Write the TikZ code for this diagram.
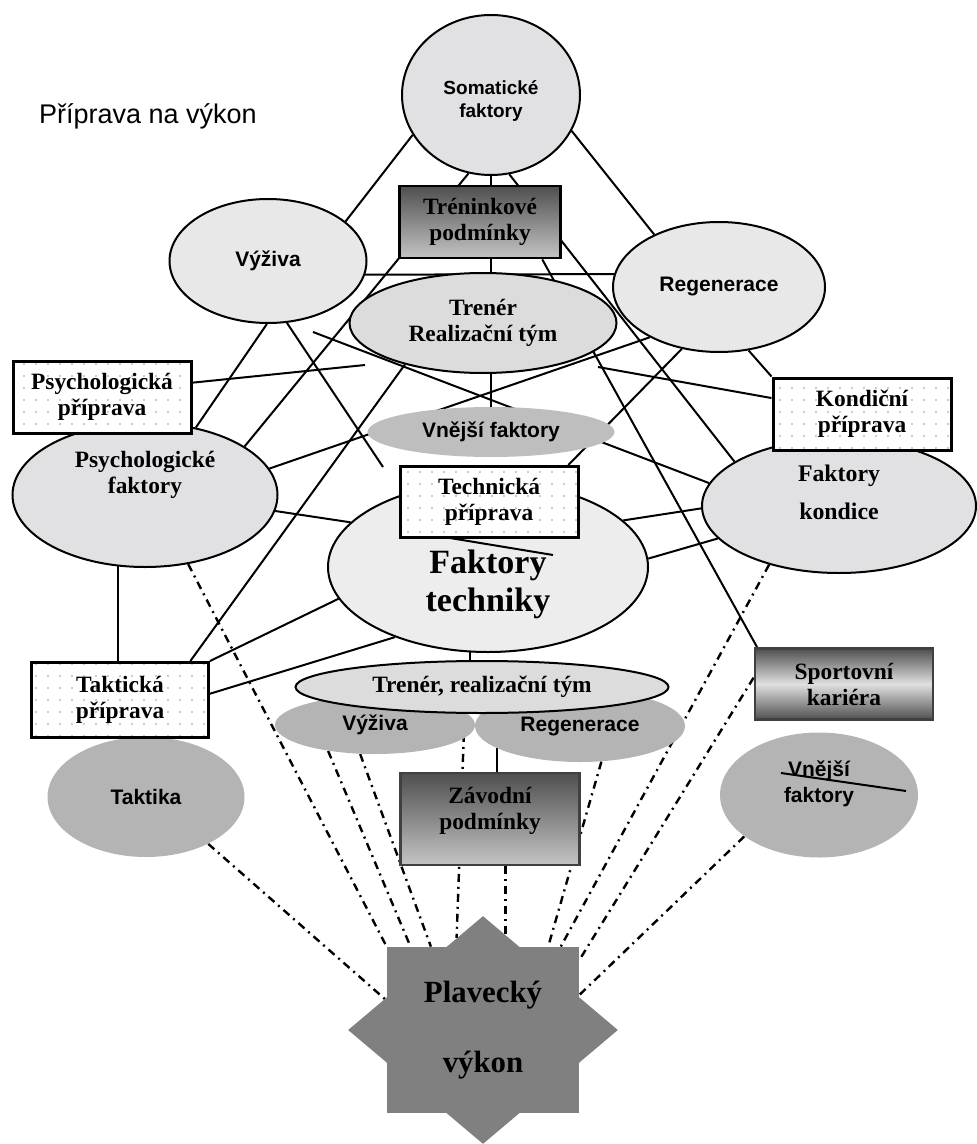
\documentclass[tikz,border=0pt]{standalone}
\usepackage{fontspec}
\setmainfont{Liberation Serif}
\setsansfont{Liberation Sans}
\usetikzlibrary{shapes.geometric,backgrounds,patterns,calc}
\definecolor{marble}{HTML}{E1E1E4}
\definecolor{paleell}{HTML}{E8E8E8}
\definecolor{midell}{HTML}{DCDCDC}
\definecolor{greyell}{HTML}{B4B4B4}
\definecolor{outerell}{HTML}{BEBEBE}
\definecolor{speckle}{HTML}{EDEDED}
\definecolor{stargrey}{HTML}{808080}
\definecolor{shadetop}{HTML}{4F4F4F}
\definecolor{shadebot}{HTML}{C4C4C4}
\pgfdeclarepatternformonly{sparsedots}{\pgfqpoint{-1pt}{-1pt}}{\pgfqpoint{1pt}{1pt}}{\pgfqpoint{6pt}{6pt}}{%
  \pgfpathcircle{\pgfqpoint{0pt}{0pt}}{0.45pt}\pgfusepath{fill}}
\newcommand{\tboxfont}{\bfseries\fontsize{11.7}{13}\selectfont}
\newcommand{\tellfont}{\sffamily\bfseries\fontsize{10.5}{13}\selectfont}
\newcommand{\tsomafont}{\sffamily\bfseries\fontsize{9.5}{11.5}\selectfont}
\newcommand{\tkondfont}{\bfseries\fontsize{11.9}{19}\selectfont}
\newcommand{\ttechfont}{\bfseries\fontsize{17}{19}\selectfont}
\newcommand{\tstarfont}{\bfseries\fontsize{15.4}{35}\selectfont}
\tikzset{
  ringell/.style={
    ellipse, draw, line width=1pt, fill=#1,
    inner sep=0pt, align=center
  },
  ringell/.default=paleell,
  flatell/.style={
    ellipse, fill=#1, inner sep=0pt, align=center
  },
  flatell/.default=greyell,
  dotbox/.style={
    rectangle, draw, line width=1.5pt, preaction={fill=white},
    pattern=sparsedots, pattern color=black!40,
    minimum width=89pt, minimum height=36pt,
    font=\tboxfont, align=center, inner sep=2pt
  },
  shadebox/.style={
    rectangle, draw=#1, line width=1.4pt,
    top color=shadetop, bottom color=shadebot,
    minimum width=89pt, minimum height=36pt,
    font=\tboxfont, align=center, inner sep=2pt
  },
  shadebox/.default=black,
  link/.style={line width=1pt},
  dashlink/.style={line width=1.2pt, dash pattern=on 4pt off 2.5pt on 1pt off 2.5pt},
}
\begin{document}
\begin{tikzpicture}[x=0.5pt, y=-0.5pt]
  \useasboundingbox (0,0) rectangle (976,1144);

  % heading
  \node[anchor=base west, font=\sffamily\fontsize{13.5}{16}\selectfont] (title) at (32,124) {Příprava na výkon};

  % upper group
  \node[ringell=marble, minimum width=89pt, minimum height=80pt,
        label={[font=\tsomafont, align=center, yshift=-3pt]center:Somatické\\faktory}] (soma) at (491,95) {};
  \node[shadebox, minimum width=80.5pt, minimum height=36pt] (trenink) at (480,222) {Tréninkové\\podmínky};
  \node[ringell, minimum width=98.5pt, minimum height=62pt, font=\tellfont] (vyziva) at (268,261) {Výživa};
  \node[ringell, minimum width=106pt, minimum height=65pt, font=\tellfont] (regen) at (719,287) {Regenerace};
  \node[ringell=midell, minimum width=133.5pt, minimum height=50pt, font=\tboxfont] (trener) at (483,323) {Trenér\\Realizační tým};
  \node[flatell=outerell, minimum width=123.5pt, minimum height=25pt, font=\tellfont] (vnejsi) at (491,432) {Vnější faktory};

  % factor ellipses with their preparation boxes
  \node[ringell=marble, minimum width=132.5pt, minimum height=72pt,
        label={[font=\tboxfont, align=center, yshift=10pt]center:Psychologické\\faktory}] (psychfak) at (145,495) {};
  \node[dotbox] (psychprip) at (102,397) {Psychologická\\příprava};
  \node[ringell=marble, minimum width=137pt, minimum height=67pt,
        label={[font=\tkondfont, align=center, yshift=7pt]center:Faktory\\kondice}] (kondfak) at (839,506) {};
  \node[dotbox] (kondprip) at (862,414) {Kondiční\\příprava};
  \node[ringell=speckle, minimum width=160pt, minimum height=85pt,
        label={[font=\ttechfont, align=center, yshift=-8.5pt]center:Faktory\\techniky}] (technika) at (488,567) {};
  \node[dotbox, minimum height=35.5pt] (techprip) at (489,502) {Technická\\příprava};
  \node[flatell, minimum width=98.5pt, minimum height=60pt, font=\tellfont] (taktika) at (146,797) {Taktika};
  \node[dotbox, minimum width=88.5pt, minimum height=37.5pt] (taktprip) at (120,700) {Taktická\\příprava};

  % lower group
  \node[flatell, minimum width=100pt, minimum height=29pt, font=\tellfont] (vyziva2) at (375,725) {Výživa};
  \node[flatell, minimum width=105pt, minimum height=36pt, font=\tellfont] (regen2) at (580,726) {Regenerace};
  \node[ringell=midell, minimum width=186.5pt, minimum height=26pt, font=\tboxfont] (trener2) at (482,687) {Trenér, realizační tým};
  \node[shadebox=black!75, minimum width=89.5pt, minimum height=46pt,
        label={[font=\tboxfont, align=center, yshift=4pt]center:Závodní\\podmínky}] (zavod) at (490,819) {};
  \node[shadebox=black!75, top color=shadetop, bottom color=shadetop, middle color=black!12,
        minimum height=35.5pt] (kariera) at (844,684) {Sportovní\\kariéra};
  \node[flatell, minimum width=99pt, minimum height=62.5pt,
        label={[font=\tellfont, align=center, yshift=5.5pt]center:Vnější\\faktory}] (vnejsi2) at (819,795) {};

  % performance star
  \node[rectangle, fill=stargrey, minimum width=96pt, minimum height=83pt, inner sep=0pt] (plav) at (483,1030) {};
  \node[diamond, fill=stargrey, aspect=1.18, minimum width=135pt, minimum height=114pt, inner sep=0pt] (plavd) at (483,1030) {};
  \node[font=\tstarfont, align=center] (plavtxt) at (483,1030) {Plavecký\\výkon};

  % loose ends
  \coordinate (vyzend) at (383,467);
  \coordinate (kondstart) at (313,332);
  \coordinate (psychend) at (365,365);
  \coordinate (kondstart2) at (598,367);

  \begin{scope}[on background layer]
    % solid links
    \draw[link] (soma.207) -- (vyziva.27);
    \draw[link] (soma.336) -- (regen.141);
    \draw[link] (soma.254) -- (psychfak.26);
    \draw[link] (soma.283) -- (kondfak.157);
    \draw[link] (soma.south) -- (vnejsi.north);
    \draw[link] (trenink.329.5) -- (kariera.157);
    \draw[link] (vyziva.-8) -- (regen.173);
    \draw[link] (vyziva.269) -- (psychfak.53);
    \draw[link] (vyziva.287) -- (vyzend);
    \draw[link] (kondstart) -- (kondfak.170);
    \draw[link] (psychprip.9) -- (psychend);
    \draw[link] (trener.208) -- (taktprip.29);
    \draw[link] (regen.216) -- (psychfak.12);
    \draw[link] (regen.239) -- (techprip.25);
    \draw[link] (regen.295) -- (kondprip.north west);
    \draw[link] (kondstart2) -- (kondprip.170);
    \draw[link] (psychfak.353) -- (technika.162);
    \draw[link] (psychfak.249) -- (psychfak.249 |- taktprip.north);
    \draw[link] (technika.192) -- (taktprip.north east);
    \draw[link] (technika.217) -- (taktprip.4);
    \draw[link] (technika.19) -- (kondfak.181);
    \draw[link] (technika.3) -- (kondfak.195);
    \draw[link] (technika.258) -- (technika.258 |- trener2.north);
    \draw[link] (regen2.195) -- (regen2.195 |- zavod.north);
    % dash-dot links to the star
    \draw[dashlink] (psychfak.302) -- (plav.north west);
    \draw[dashlink] (taktika.323) -- (plav.163);
    \draw[dashlink] (vyziva2.209) -- (plav.131);
    \draw[dashlink] (vyziva2.243) -- (plav.122);
    \draw[dashlink] (trener2.237) -- (plavd.106);
    \draw[dashlink] (zavod.288) -- (zavod.288 |- plav.center);
    \draw[dashlink] (regen2.301) -- (plav.52);
    \draw[dashlink] (kondfak.220) -- (plav.47);
    \draw[dashlink] (kariera.176) -- (plav.36);
    \draw[dashlink] (vnejsi2.209) -- (plav.20);
  \end{scope}

  % stray strokes
  \draw[link] (450,538) -- (553,555);
  \draw[link] (781,773) -- (906,791);
\end{tikzpicture}
\end{document}
